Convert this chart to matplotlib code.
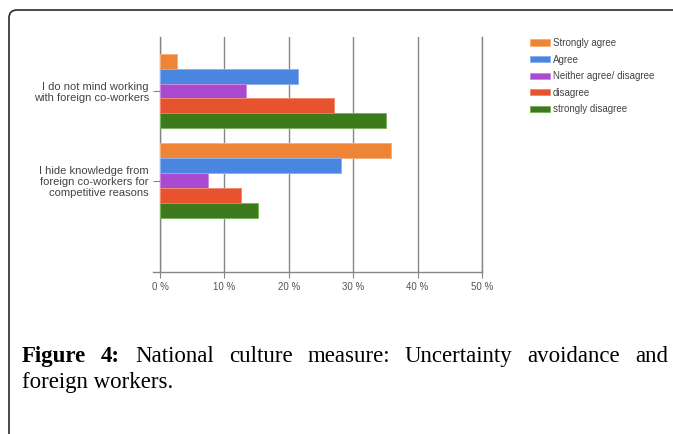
import numpy as np
import matplotlib
matplotlib.use("Agg")
import matplotlib.pyplot as plt
from matplotlib.patches import FancyBboxPatch


# ------------------------------------------------------------
# Data
# ------------------------------------------------------------
STATEMENTS = [
    "I do not mind working\nwith foreign co-workers",
    "I hide knowledge from\nforeign co-workers for\ncompetitive reasons",
]
RESPONSES = ["Strongly agree", "Agree", "Neither agree/ disagree",
             "disagree", "strongly disagree"]
STRONGLY_AGREE = [2.6, 35.9]
AGREE = [21.4, 28.1]
NEITHER = [13.4, 7.5]
DISAGREE = [27.0, 12.6]
STRONGLY_DISAGREE = [35.1, 15.2]
X_TICKS = [0, 10, 20, 30, 40, 50]
X_TICK_LABELS = ["0 %", "10 %", "20 %", "30 %", "40 %", "50 %"]

COLORS = ["#EE8436", "#4A86E0", "#A94AD0", "#E8532F", "#3D7A1C"]
EDGES = ["#F6B07A", "#8DB3EE", "#C98BE2", "#F08C72", "#7FB060"]

CAPTION_LINE1 = ["Figure", "4:", "National", "culture", "measure:",
                 "Uncertainty", "avoidance", "and"]
CAPTION_LINE2 = "foreign workers."

W, H = 673, 434
GRID = "#868686"
fig = plt.figure(figsize=(W / 100, H / 100), dpi=100)

# outer frame with rounded top-left corner
frame = FancyBboxPatch((0.09, -0.5), 7.5, 4.34 - 0.10 + 0.5,
                       boxstyle="round,pad=0,rounding_size=0.08",
                       transform=fig.dpi_scale_trans, fill=False,
                       edgecolor="#2a2a2a", linewidth=1.2)
fig.patches.append(frame)

# ------------------------------------------------------------
# Chart
# ------------------------------------------------------------
ax = fig.add_axes([160 / W, 1 - 272 / H, 322 / W, 235 / H])
series = [STRONGLY_AGREE, AGREE, NEITHER, DISAGREE, STRONGLY_DISAGREE]
pos = np.arange(len(STATEMENTS))
bar_h = 0.1665
handles = []
for i, vals in enumerate(series):
    b = ax.barh(pos + (i - 2) * bar_h, vals, height=bar_h,
                color=COLORS[i], edgecolor=EDGES[i], linewidth=0.7,
                label=RESPONSES[i], zorder=3)
    handles.append(b)

ax.set_xlim(0, 50)
ax.set_ylim(2.02, -0.603)
ax.set_axisbelow(True)
ax.set_xticks(X_TICKS)
ax.set_xticklabels(X_TICK_LABELS, fontsize=7, color="#555555",
                   family="Liberation Sans")
ax.xaxis.grid(True, color=GRID, linewidth=1.0, zorder=0)
ax.tick_params(axis="x", length=4, color=GRID, pad=3)
ax.set_yticks(pos)
ax.set_yticklabels(STATEMENTS, fontsize=8, color="#444444",
                   family="Liberation Sans", linespacing=1.1)
ax.tick_params(axis="y", length=5, color=GRID, pad=3)
for s in ["top", "bottom"]:
    ax.spines[s].set_visible(False)
for s in ["left", "right"]:
    ax.spines[s].set_color(GRID)
    ax.spines[s].set_linewidth(1.0)
# baseline that runs a little past the 0 % line
ax.plot([-0.022, 1], [0, 0], transform=ax.transAxes, color=GRID,
        linewidth=1.0, clip_on=False, zorder=4)

leg = fig.legend(handles=handles, loc="upper left",
                 bbox_to_anchor=(530 / W, 1 - 38 / H),
                 frameon=False, borderpad=0, borderaxespad=0,
                 handlelength=2.05, handleheight=0.6, handletextpad=0.3,
                 labelspacing=0.68, prop={"family": "Liberation Sans", "size": 7})
for t in leg.get_texts():
    t.set_color("#444444")

# ------------------------------------------------------------
# Caption, justified on the first line
# ------------------------------------------------------------
cap_size = 16.5
left_px, right_px = 22, 668
base1 = H - 362
base2 = H - 388
words = []
for k, w in enumerate(CAPTION_LINE1):
    weight = "bold" if k < 2 else "normal"
    words.append(fig.text(0, base1 / H, w, fontsize=cap_size,
                          family="Liberation Serif", fontweight=weight,
                          va="baseline", ha="left"))
fig.canvas.draw()
r = fig.canvas.get_renderer()
widths = [t.get_window_extent(r).width for t in words]
gap = (right_px - left_px - sum(widths)) / (len(words) - 1)
x = left_px
for t, wd in zip(words, widths):
    t.set_x(x / W)
    x += wd + gap
fig.text(left_px / W, base2 / H, CAPTION_LINE2, fontsize=cap_size,
         family="Liberation Serif", va="baseline", ha="left")

fig.savefig("out.png", dpi=100)
